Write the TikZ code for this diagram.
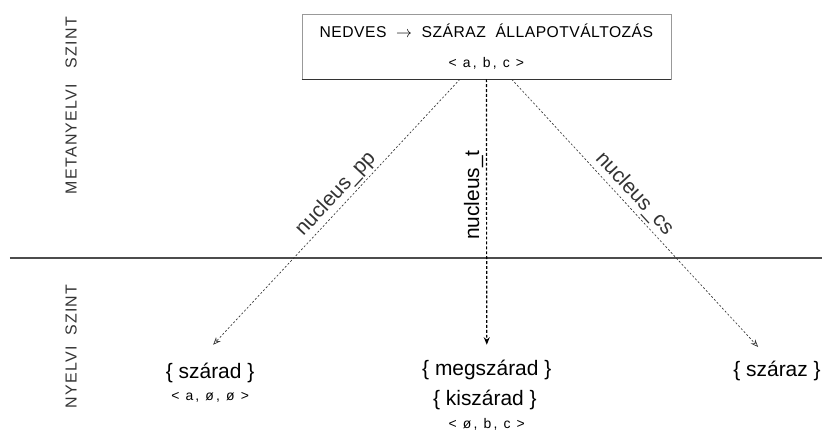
\documentclass[tikz,border=0pt]{standalone}
\usepackage{fontspec}
\setmainfont{Liberation Sans}
\newfontfamily\titlefont[LetterSpace=3]{Liberation Sans}
\newfontfamily\levelfont[LetterSpace=8]{Liberation Sans}
\newfontfamily\vecfont[LetterSpace=16]{Liberation Sans}
\usetikzlibrary{arrows.meta}

\begin{document}
\begin{tikzpicture}[
    statebox/.style={rectangle, draw=black!40, thin, minimum width=9.76cm, minimum height=1.72cm, inner sep=0pt, align=center, font=\fontsize{11.8}{22.5}\selectfont},
    wordform/.style={inner sep=0pt, font=\fontsize{15.75}{18}\selectfont},
    vector/.style={inner sep=0pt, font=\vecfont\fontsize{10.5}{12}\selectfont},
    levellabel/.style={rotate=90, inner sep=0pt, text=black!80, font=\levelfont\fontsize{12}{14}\selectfont},
    relation/.style={-{Stealth[open, length=2mm, width=1.6mm]}, black!80, line width=0.5pt, dash pattern=on 1.5pt off 1.5pt},
    relationmain/.style={relation, black, line width=0.9pt, dash pattern=on 2.2pt off 1.5pt},
    rellabel/.style={inner sep=2pt, font=\fontsize{15.75}{18}\selectfont}
]
\useasboundingbox (0,0) rectangle (21.75,-11.43);

\node[statebox] (top) at (12.87,-1.23) {{\titlefont NEDVES\ \ $\rightarrow$\ \ SZÁRAZ\ \ ÁLLAPOTVÁLTOZÁS}\\{\vecfont\fontsize{10.5}{22.5}\selectfont < a, b, c >}};
\draw[black!80, line width=1pt] (top.south west) -- (top.south east);

\node[levellabel] (meta)   at (1.88,-2.79) {METANYELVI\hspace{12pt}SZINT};
\node[levellabel] (nyelvi) at (1.88,-9.17) {NYELVI\hspace{8pt}SZINT};
\draw[black!70, line width=1pt] (0.26,-6.83) -- (21.75,-6.83);

\node[wordform] (szarad)      at (5.56,-9.86)  {\{ szárad \}};
\node[vector]   (szaradvec)   at (5.56,-10.50) {< a, ø, ø >};
\node[wordform] (megszarad)   at (12.88,-9.79) {\{ megszárad \}};
\node[wordform] (kiszarad)    at (12.83,-10.58) {\{ kiszárad \}};
\node[vector]   (kiszaradvec) at (12.88,-11.24) {< ø, b, c >};
\node[wordform] (szaraz)      at (20.56,-9.82) {\{ száraz \}};

\draw[relation] ([xshift=-0.70cm]top.south) -- ([xshift=0.08cm,yshift=0.47cm]szarad.north)
    node[rellabel, pos=0.465, sloped, above] (pp) {nucleus\_pp};
\draw[relationmain] (top.south) -- ([yshift=0.4cm]megszarad.north)
    node[rellabel, pos=0.436, rotate=90, anchor=south] (t) {nucleus\_t};
\draw[relation] ([xshift=0.67cm]top.south) -- ([xshift=-0.50cm,yshift=0.37cm]szaraz.north)
    node[rellabel, pos=0.46, sloped, above] (cs) {nucleus\_cs};
\end{tikzpicture}
\end{document}
